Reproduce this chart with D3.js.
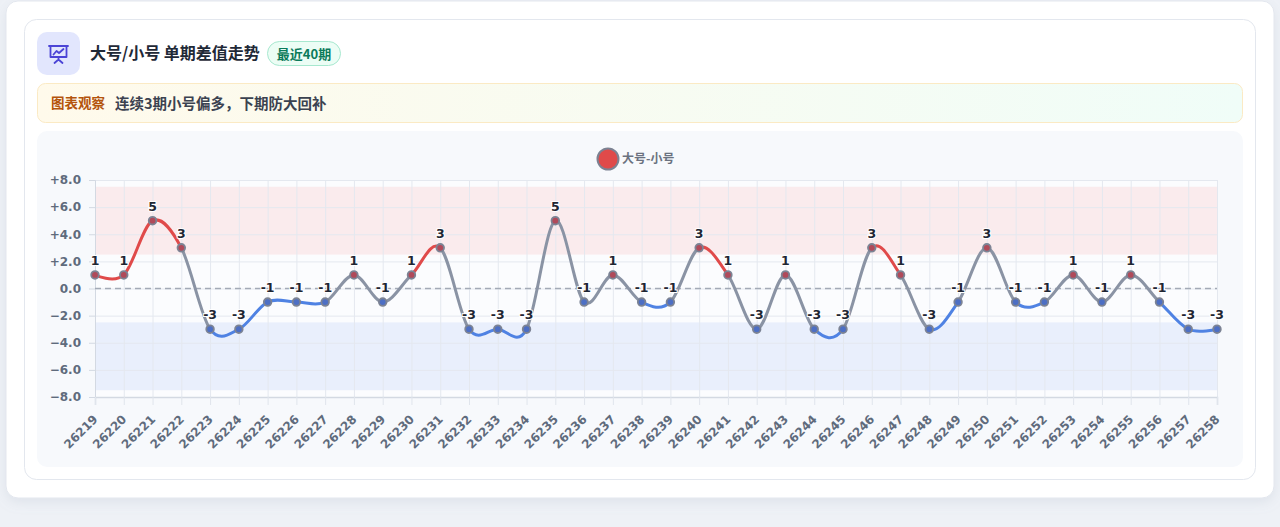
<!DOCTYPE html>
<html><head><meta charset="utf-8">
<script src="https://cdn.jsdelivr.net/npm/d3@7/dist/d3.min.js"></script>
<style>
html,body{margin:0;padding:0;background:#eef1f6;width:1280px;height:527px;overflow:hidden;}
svg{display:block;}
</style></head>
<body>
<svg id="c" width="1280" height="527"></svg>
<script>
const periods = ["26219","26220","26221","26222","26223","26224","26225","26226","26227","26228","26229","26230","26231","26232","26233","26234","26235","26236","26237","26238","26239","26240","26241","26242","26243","26244","26245","26246","26247","26248","26249","26250","26251","26252","26253","26254","26255","26256","26257","26258"];
const diffs = [1,1,5,3,-3,-3,-1,-1,-1,1,-1,1,3,-3,-3,-3,5,-1,1,-1,-1,3,1,-3,1,-3,-3,3,1,-3,-1,3,-1,-1,1,-1,1,-1,-3,-3];
const yTicks = [-8,-6,-4,-2,0,2,4,6,8];
const bands = [{from:2.5,to:7.5,kind:"hi"},{from:-7.5,to:-2.5,kind:"lo"}];
const titleText = "大号/小号 单期差值走势";
const badgeText = "最近40期";
const obsLabel = "图表观察";
const obsText = "连续3期小号偏多，下期防大回补";
const seriesName = "大号-小号";

const RED="#e04a4a", BLUE="#4f82e3", GRAY="#8a93a4";
const CJK = "'Noto Sans CJK SC','Noto Sans',sans-serif";
const NUM = "'DejaVu Sans',sans-serif";

const svg = d3.select("#c");
const defs = svg.append("defs");
const sh = defs.append("filter").attr("id","sh").attr("x","-5%").attr("y","-5%").attr("width","110%").attr("height","120%");
sh.append("feDropShadow").attr("dx",0).attr("dy",4).attr("stdDeviation",6).attr("flood-color","#94a3b8").attr("flood-opacity",0.18);

// outer card
svg.append("rect").attr("x",6).attr("y",1).attr("width",1268).attr("height",497).attr("rx",12)
  .attr("fill","#ffffff").attr("stroke","#e3e7ee").attr("filter","url(#sh)");
// inner card
svg.append("rect").attr("x",24.5).attr("y",19.5).attr("width",1231).attr("height",460).attr("rx",12)
  .attr("fill","#ffffff").attr("stroke","#e3e7ee");

// icon
svg.append("rect").attr("x",37).attr("y",32).attr("width",43).attr("height",43).attr("rx",10).attr("fill","#e2e6fd");
const ic = svg.append("g").attr("transform","translate(48.5,45)").attr("fill","none").attr("stroke","#4b44d6").attr("stroke-width",1.8).attr("stroke-linecap","round").attr("stroke-linejoin","round");
ic.append("path").attr("d","M0.5 1H19.5");
ic.append("rect").attr("x",2).attr("y",1).attr("width",16).attr("height",11);
ic.append("path").attr("d","M5 9.5L8 6L10.5 8L15 4");
ic.append("path").attr("d","M10 12V14.5M6 18L10 14.5L14 18");

// title
svg.append("text").attr("x",90).attr("y",59).attr("font-family",CJK).attr("font-size",16).attr("font-weight",700)
  .attr("fill","#1f2937").text(titleText);
svg.append("rect").attr("x",267.5).attr("y",41.5).attr("width",73).attr("height",24).attr("rx",12)
  .attr("fill","#ecfdf5").attr("stroke","#a7e8cf");
svg.append("text").attr("x",304).attr("y",58.5).attr("text-anchor","middle").attr("font-family",CJK).attr("font-size",13)
  .attr("font-weight",700).attr("fill","#0b7a5a").text(badgeText);

// observation box
const og = defs.append("linearGradient").attr("id","og").attr("x1","0").attr("x2","1").attr("y1","0").attr("y2","0");
og.append("stop").attr("offset","0").attr("stop-color","#fffaeb");
og.append("stop").attr("offset","1").attr("stop-color","#f0fdf8");
svg.append("rect").attr("x",37.5).attr("y",83.5).attr("width",1205).attr("height",39).attr("rx",8)
  .attr("fill","url(#og)").attr("stroke","#fbeac4");
svg.append("text").attr("x",51).attr("y",108).attr("font-family",CJK).attr("font-size",13.5).attr("font-weight",700)
  .attr("fill","#b4540c").text(obsLabel);
svg.append("text").attr("x",115).attr("y",108.5).attr("font-family",CJK).attr("font-size",14.5).attr("font-weight",700)
  .attr("fill","#3b4250").text(obsText);

// chart container
svg.append("rect").attr("x",37).attr("y",131).attr("width",1206).attr("height",336).attr("rx",10).attr("fill","#f7f9fc");

// legend
svg.append("circle").attr("cx",608).attr("cy",159).attr("r",10.5).attr("fill",RED).attr("stroke","#7c8292").attr("stroke-width",2);
svg.append("text").attr("x",622).attr("y",163).attr("font-family",CJK).attr("font-size",12).attr("font-weight",700)
  .attr("fill","#6b7280").text(seriesName);

// scales
const x = d3.scalePoint().domain(periods).range([95,1217]);
const y = d3.scaleLinear().domain([-8,8]).range([397,180]);
const L = x.range()[0], R = x.range()[1];

const plot = svg.append("g");
plot.append("rect").attr("x",L).attr("y",y(8)).attr("width",R-L).attr("height",y(-8)-y(8)).attr("fill","#fbfcfe");
plot.selectAll("rect.band").data(bands).join("rect").attr("class","band")
  .attr("x",L).attr("width",R-L).attr("y",d=>y(d.to)).attr("height",d=>y(d.from)-y(d.to))
  .attr("fill",d=>d.kind==="hi"?"rgba(239,68,68,0.09)":"rgba(59,110,235,0.09)");

// grid
plot.append("g").call(d3.axisLeft(y).tickValues(yTicks).tickSize(-(R-L)).tickFormat(""))
  .attr("transform",`translate(${L},0)`)
  .call(g=>g.select(".domain").remove())
  .call(g=>g.selectAll("line").attr("stroke","#e4e8ef"));
plot.append("g").call(d3.axisBottom(x).tickSize(-(y(-8)-y(8))).tickFormat(""))
  .attr("transform",`translate(0,${y(-8)})`)
  .call(g=>g.select(".domain").remove())
  .call(g=>g.selectAll("line").attr("stroke","#e4e8ef"));

// y axis labels
const ya = plot.append("g").attr("transform",`translate(${L},0)`)
  .call(d3.axisLeft(y).tickValues(yTicks).tickSize(6).tickPadding(8).tickFormat(v=> (v>0?"+":"")+d3.format(".1f")(v)));
ya.select(".domain").attr("stroke","#d3d9e2");
ya.selectAll("line").attr("stroke","#d3d9e2");
ya.selectAll("text").attr("font-family",NUM).attr("font-size",12).attr("font-weight",700).attr("fill","#5f6b7c");

// x axis
const xa = plot.append("g").attr("transform",`translate(0,${y(-8)})`)
  .call(d3.axisBottom(x).tickSize(8).tickPadding(4));
xa.select(".domain").attr("stroke","#d3d9e2").attr("stroke-width",1.5);
xa.selectAll("line").attr("stroke","#e0e5ec");
xa.selectAll("text").attr("font-family",NUM).attr("font-size",12).attr("font-weight",700).attr("fill","#5f6b7c")
  .attr("text-anchor","end").attr("x",0).attr("y",0).attr("dy",0).attr("transform","translate(3,23) rotate(-45)");

// zero line
plot.append("line").attr("x1",L).attr("x2",R).attr("y1",y(0)).attr("y2",y(0))
  .attr("stroke","#a3aab6").attr("stroke-width",1.3).attr("stroke-dasharray","6,4");

// segment color gradient
const pts = periods.map((p,i)=>({p, v:diffs[i]}));
const segColor = (a,b)=> (a>0&&b>0)?RED:((a<0&&b<0)?BLUE:GRAY);
const lg = defs.append("linearGradient").attr("id","lg").attr("gradientUnits","userSpaceOnUse")
  .attr("x1",L).attr("x2",R).attr("y1",0).attr("y2",0);
for(let i=0;i<pts.length-1;i++){
  const c = segColor(pts[i].v, pts[i+1].v);
  const o1 = (x(pts[i].p)-L)/(R-L), o2 = (x(pts[i+1].p)-L)/(R-L);
  lg.append("stop").attr("offset",o1).attr("stop-color",c);
  lg.append("stop").attr("offset",o2).attr("stop-color",c);
}
const line = d3.line().x(d=>x(d.p)).y(d=>y(d.v)).curve(d3.curveCardinal.tension(0));
plot.append("path").datum(pts).attr("d",line).attr("fill","none").attr("stroke","url(#lg)")
  .attr("stroke-width",3).attr("stroke-linecap","round").attr("stroke-linejoin","round");

// points
plot.selectAll("circle.pt").data(pts).join("circle").attr("class","pt")
  .attr("cx",d=>x(d.p)).attr("cy",d=>y(d.v)).attr("r",3.8)
  .attr("fill",d=>d.v>0?"#b04a5a":"#4d6fc4").attr("stroke","#7c8394").attr("stroke-width",1.8);

// labels
plot.selectAll("text.lab").data(pts).join("text").attr("class","lab")
  .attr("x",d=>x(d.p)).attr("y",d=>y(d.v)-10).attr("text-anchor","middle")
  .attr("font-family",NUM).attr("font-size",12.5).attr("font-weight",700).attr("fill","#1f2633")
  .attr("stroke","#ffffff").attr("stroke-width",2).attr("paint-order","stroke")
  .text(d=>d.v);
</script>
</body></html>
